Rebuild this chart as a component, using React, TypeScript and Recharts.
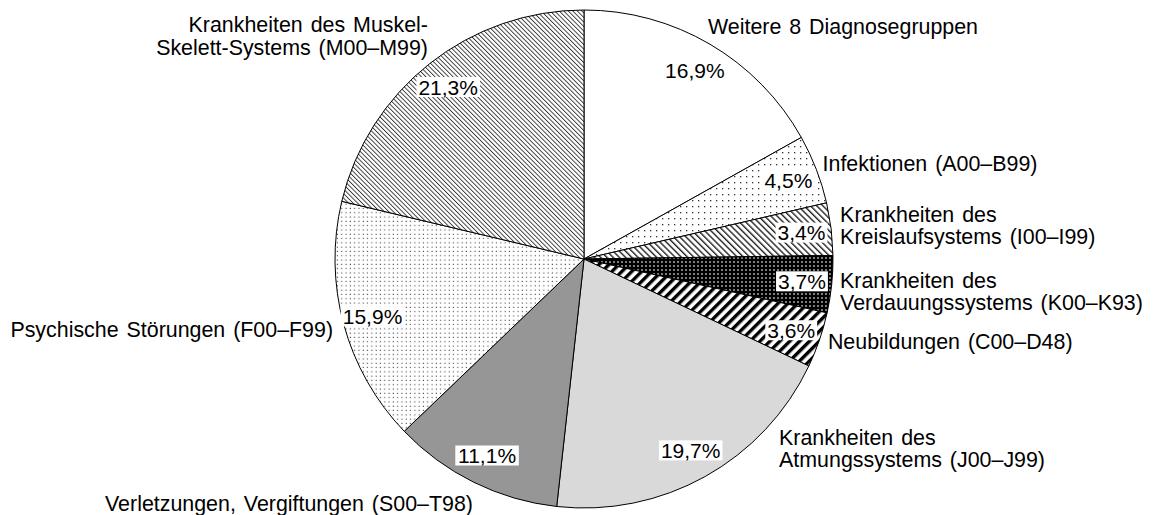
import React from 'react';
import { PieChart, Pie, Cell } from 'recharts';

// ---- data ----
const categories = [
  'Weitere 8 Diagnosegruppen',
  'Infektionen (A00–B99)',
  'Krankheiten des Kreislaufsystems (I00–I99)',
  'Krankheiten des Verdauungssystems (K00–K93)',
  'Neubildungen (C00–D48)',
  'Krankheiten des Atmungssystems (J00–J99)',
  'Verletzungen, Vergiftungen (S00–T98)',
  'Psychische Störungen (F00–F99)',
  'Krankheiten des Muskel-Skelett-Systems (M00–M99)',
];
const labelLines = [
  ['Weitere 8 Diagnosegruppen'],
  ['Infektionen (A00–B99)'],
  ['Krankheiten des', 'Kreislaufsystems (I00–I99)'],
  ['Krankheiten des', 'Verdauungssystems (K00–K93)'],
  ['Neubildungen (C00–D48)'],
  ['Krankheiten des', 'Atmungssystems (J00–J99)'],
  ['Verletzungen, Vergiftungen (S00–T98)'],
  ['Psychische Störungen (F00–F99)'],
  ['Krankheiten des Muskel-', 'Skelett-Systems (M00–M99)'],
];
const shares = [16.9, 4.5, 3.4, 3.7, 3.6, 19.7, 11.1, 15.9, 21.3];

// ---- styles / layout ----
const fills = [
  '#ffffff',
  'url(#dotsSparse)',
  'url(#hatchKreislauf)',
  'url(#dotsOnBlack)',
  'url(#stripesBold)',
  '#d9d9d9',
  '#969696',
  'url(#dotsDense)',
  'url(#hatchFine)',
];
const labelNudge: [number, number][] = [
  [-7, -9.6],
  [-3, -2.6],
  [-1, -2.3],
  [-1.6, 6],
  [-1, -2],
  [69, -37],
  [3.5, 12],
  [-1, 2],
  [4.5, -20],
];

const chartData = categories.map((name, i) => ({ name, value: shares[i] }));

const FONT_FAMILY = '"Liberation Sans", Arial, Helvetica, sans-serif';
const FONT = 21.4;
const PFONT = 21;
const LINE = 22.5;
const CAP = FONT * 0.716;
const RAD = Math.PI / 180;

const fmt = (v: number) => v.toFixed(1).replace('.', ',') + '%';
const charWidth = (c: string) => (c === ',' ? 0.278 : c === '%' ? 0.889 : 0.556);
const textWidth = (s: string) => s.split('').reduce((a, c) => a + charWidth(c), 0) * PFONT;

function renderLabel(props: any) {
  const { cx, cy, midAngle, outerRadius } = props;
  let index: number = props.index;
  if (index === undefined || index === null) {
    index = categories.indexOf(props.name ?? props.payload?.name);
  }
  const cos = Math.cos(-midAngle * RAD);
  const sin = Math.sin(-midAngle * RAD);
  const pr = outerRadius * 0.88;
  const px = cx + pr * cos;
  const py = cy + pr * sin;
  const txt = fmt(shares[index]);
  const w = textWidth(txt);
  const ar = outerRadius + 10;
  const [dx, dy] = labelNudge[index];
  const ax = cx + ar * cos + dx;
  const ay = cy + ar * sin + dy;
  const anchor = cos >= 0 ? 'start' : 'end';
  const lines = labelLines[index];
  const n = lines.length;
  return (
    <g key={`lbl-${index}`}>
      <rect x={px - w / 2 - 2} y={py - 10} width={w + 4} height={20} fill="#ffffff" />
      <text
        x={px}
        y={py + (PFONT * 0.716) / 2}
        textAnchor="middle"
        fontFamily={FONT_FAMILY}
        fontSize={PFONT}
        fill="#000"
      >
        {txt}
      </text>
      {lines.map((ln, i) => (
        <text
          key={i}
          x={ax}
          y={ay + (i - (n - 1) / 2) * LINE + CAP / 2}
          textAnchor={anchor}
          fontFamily={FONT_FAMILY}
          fontSize={FONT}
          wordSpacing={2}
          fill="#000"
        >
          {ln}
        </text>
      ))}
    </g>
  );
}

export default function App() {
  return (
    <div style={{ width: 1154, height: 515, background: '#fff' }}>
      <style>{'body{margin:0;background:#fff}'}</style>
      <PieChart width={1154} height={515} margin={{ top: 0, right: 0, bottom: 0, left: 0 }}>
        <defs>
          <pattern id="dotsSparse" patternUnits="userSpaceOnUse" width="6" height="6">
            <rect width="6" height="6" fill="#fff" />
            <rect x="2" y="2" width="1.3" height="1.3" fill="#333" />
          </pattern>
          <pattern id="dotsDense" patternUnits="userSpaceOnUse" width="4.3" height="4.3">
            <rect width="4.3" height="4.3" fill="#fff" />
            <rect x="1.5" y="1.5" width="1.1" height="1.1" fill="#444" />
          </pattern>
          <pattern id="dotsOnBlack" patternUnits="userSpaceOnUse" width="4" height="4">
            <rect width="4" height="4" fill="#000" />
            <rect x="1.3" y="1.3" width="1.4" height="1.4" fill="#fff" />
          </pattern>
          <pattern
            id="hatchKreislauf"
            patternUnits="userSpaceOnUse"
            width="4.4"
            height="4.4"
            patternTransform="rotate(-45)"
          >
            <rect width="4.4" height="4.4" fill="#fff" />
            <rect x="0" y="0" width="1.4" height="4.4" fill="#222" />
          </pattern>
          <pattern
            id="hatchFine"
            patternUnits="userSpaceOnUse"
            width="3.2"
            height="3.2"
            patternTransform="rotate(-45)"
          >
            <rect width="3.2" height="3.2" fill="#fff" />
            <rect x="0" y="0" width="0.9" height="3.2" fill="#333" />
          </pattern>
          <pattern
            id="stripesBold"
            patternUnits="userSpaceOnUse"
            width="7"
            height="7"
            patternTransform="rotate(45)"
          >
            <rect width="7" height="7" fill="#fff" />
            <rect x="0" y="0" width="3.4" height="7" fill="#000" />
          </pattern>
        </defs>
        <Pie
          data={chartData}
          dataKey="value"
          nameKey="name"
          cx={584}
          cy={259}
          outerRadius={249}
          startAngle={90}
          endAngle={-270}
          stroke="#000"
          strokeWidth={1}
          isAnimationActive={false}
          labelLine={false}
          label={renderLabel}
        >
          {chartData.map((d, i) => (
            <Cell key={d.name} fill={fills[i]} stroke="#000" strokeWidth={1} />
          ))}
        </Pie>
      </PieChart>
    </div>
  );
}
